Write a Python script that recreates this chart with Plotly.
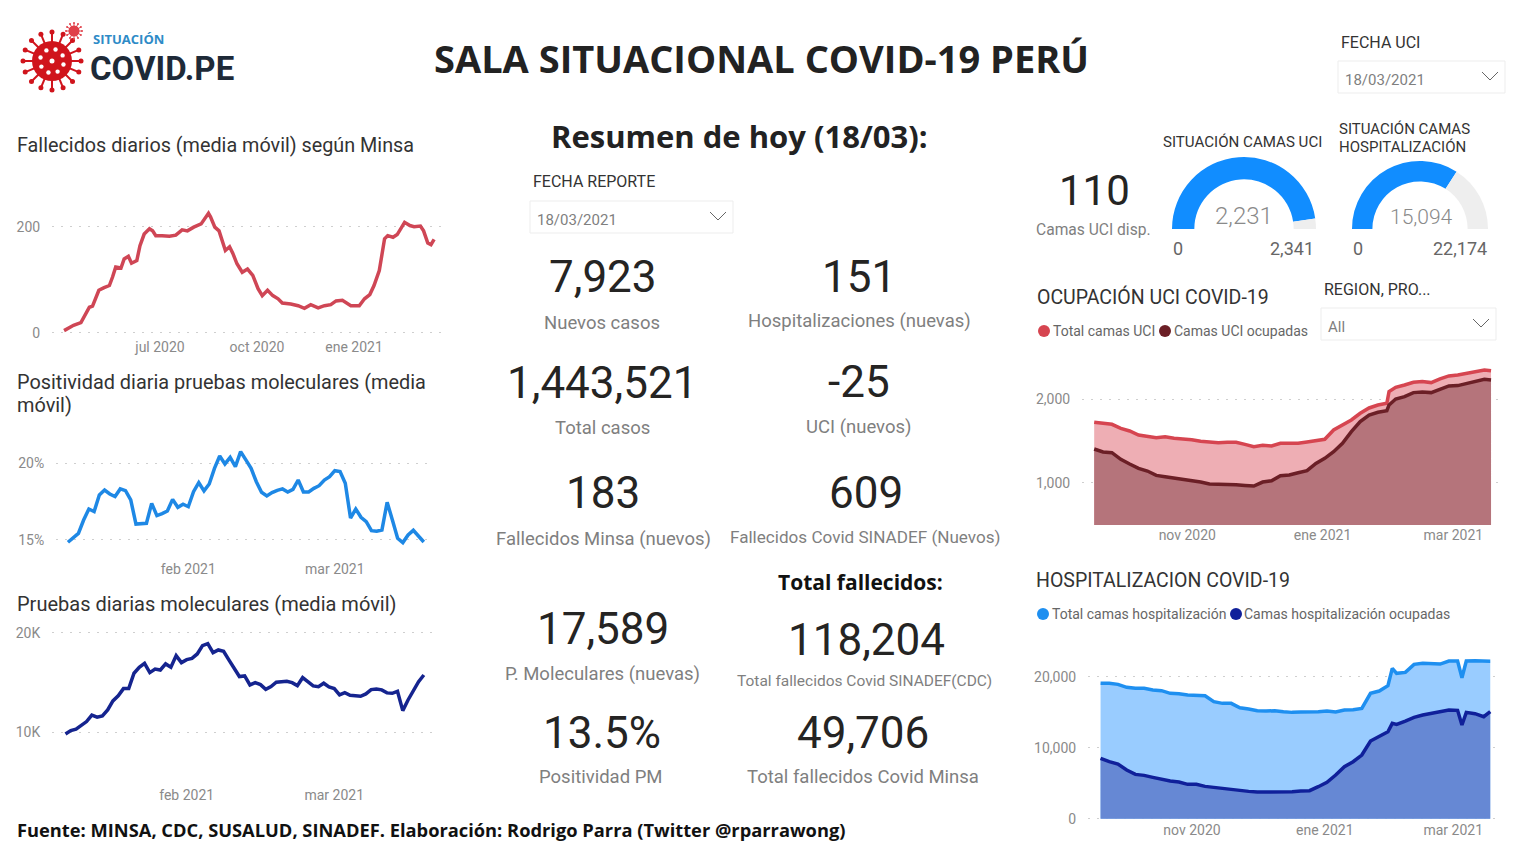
import math
import pandas as pd
import plotly.graph_objects as go

W = 1522
H = 849

# Fallecidos diarios: days since 2020-04-01
fall_days = [0, 4, 9, 16, 19, 24, 27, 30, 33, 38, 43, 46, 49, 54, 57, 61, 64, 69, 72, 76, 81, 84, 87, 93, 100,
             106, 112, 117, 123, 130, 134, 137, 139, 143, 147, 151, 153, 157, 160, 164, 169, 174, 179, 184, 188,
             193, 198, 203, 207, 215, 222, 228, 234, 241, 247, 253, 258, 264, 272, 280, 285, 290, 294, 299, 304,
             307, 312, 316, 323, 328, 332, 338, 341, 345, 348, 351]
fall_vals = [4, 8, 14, 19, 29, 48, 50, 67, 80, 85, 89, 105, 124, 122, 139, 144, 131, 136, 164, 186, 196, 192, 183,
             183, 182, 184, 194, 192, 199, 205, 218, 225, 218, 199, 192, 167, 155, 162, 150, 130, 114, 120, 108,
             83, 70, 80, 70, 64, 56, 54, 51, 46, 53, 47, 51, 53, 60, 61, 51, 51, 64, 72, 89, 117, 177, 183, 180,
             185, 208, 202, 200, 201, 192, 169, 166, 176]

# Positividad, daily from 2021-01-09
pos_vals = [14.85, 15.11, 15.43, 16.30, 17.02, 16.85, 17.93, 18.26, 18.0, 17.83, 18.33, 18.22, 17.61, 16.04, 16.04,
            16.09, 17.39, 16.59, 16.72, 16.89, 17.65, 17.13, 17.33, 17.17, 18.15, 18.74, 18.2, 18.65, 19.67, 20.48,
            19.96, 20.39, 19.78, 20.76, 20.22, 19.67, 18.8, 18.11, 17.87, 18.09, 18.24, 18.33, 18.13, 18.3, 18.91,
            18.13, 18.13, 18.37, 18.54, 18.91, 19.13, 19.52, 19.46, 18.7, 16.43, 17.02, 16.48, 16.2, 15.61, 15.57,
            15.65, 17.46, 16.3, 15.11, 14.83, 15.33, 15.63, 15.28, 14.87]

# Pruebas moleculares, daily from 2021-01-09
pruebas_vals = [9830, 10170, 10300, 10640, 11070, 11710, 11510, 11640, 12240, 13140, 13650, 14380, 14380, 15920,
                16520, 16920, 15990, 16350, 16250, 16860, 16520, 17690, 16990, 17290, 17420, 17860, 18700, 18900,
                17990, 18260, 18130, 17260, 16420, 15590, 15650, 14750, 14980, 14780, 14310, 14580, 15020, 15050,
                15120, 14980, 14680, 15480, 15080, 14650, 14580, 14920, 14550, 14380, 13750, 13980, 13710, 13680,
                13610, 13850, 14280, 14350, 14250, 13950, 13910, 14110, 12170, 13240, 14250, 15080, 15750]

# UCI: days since 2020-09-20
uci_days = [0, 4, 8, 12, 16, 20, 24, 28, 32, 36, 40, 44, 48, 52, 56, 60, 64, 68, 72, 76, 80, 84, 88, 92, 96, 100,
            104, 108, 112, 116, 120, 124, 128, 132, 133, 136, 140, 144, 148, 152, 156, 160, 164, 168, 172, 176, 179]
uci_total = [1724, 1712, 1700, 1652, 1620, 1572, 1552, 1540, 1552, 1532, 1524, 1516, 1496, 1484, 1480, 1484, 1484,
             1460, 1432, 1448, 1440, 1472, 1476, 1472, 1488, 1504, 1520, 1632, 1692, 1752, 1832, 1896, 1932, 1952,
             2092, 2144, 2172, 2204, 2212, 2200, 2244, 2280, 2292, 2312, 2332, 2352, 2341]
uci_ocup = [1404, 1368, 1360, 1280, 1224, 1172, 1140, 1088, 1072, 1056, 1048, 1032, 1008, 984, 984, 984, 976, 968,
            960, 1008, 1024, 1084, 1092, 1120, 1144, 1232, 1292, 1372, 1472, 1612, 1732, 1812, 1844, 1864, 1932,
            2004, 2032, 2080, 2088, 2080, 2120, 2160, 2164, 2192, 2212, 2240, 2231]

# Hospitalizacion: days since 2020-09-20
hosp_days = [0, 4, 8, 12, 16, 20, 24, 28, 32, 36, 40, 44, 48, 52, 56, 60, 64, 68, 72, 76, 80, 84, 88, 92, 96, 100,
             104, 108, 112, 116, 120, 124, 128, 132, 134, 136, 140, 144, 148, 152, 156, 160, 164, 166, 168, 172,
             176, 179]
hosp_total = [19061, 19061, 18920, 18498, 18357, 18357, 18122, 18028, 17653, 17606, 17418, 17418, 17324, 16479,
              16244, 16244, 15634, 15446, 15211, 15164, 15211, 15070, 14976, 15023, 15023, 15070, 15164, 15023,
              15305, 15352, 15540, 17653, 17981, 18732, 21174, 20470, 20610, 21737, 21878, 21784, 21784, 22207,
              22207, 19859, 22207, 22254, 22207, 22174]
hosp_ocup = [8497, 8028, 7699, 6854, 6244, 6103, 5821, 5539, 5305, 5164, 4835, 4835, 4553, 4413, 4272, 4037, 3943,
             3849, 3755, 3755, 3755, 3755, 3802, 3896, 3943, 4507, 5117, 6150, 7324, 8028, 8967, 10939, 11549,
             12253, 13427, 13286, 13756, 14272, 14601, 14835, 15023, 15305, 15258, 13192, 14977, 14789, 14366, 15094]

# gauges
uci_gauge = [2231, 2341]
hosp_gauge = [15094, 22174]

BLUE = "#118DFF"
GRAY_TXT = "#7f7f7f"
DARK_TXT = "#252423"
FONT = "Roboto"
BOLD = "Open Sans"


def dates(start, days):
    return pd.Timestamp(start) + pd.to_timedelta(days, unit="D")


fig = go.Figure()
annotations = []
shapes = []


def text(px, py, s, size=18, color=DARK_TXT, anchor="left", font=FONT, bold=False, weight=None):
    f = dict(family=font, size=size, color=color)
    if weight:
        f["weight"] = weight
    if anchor == "left":
        px -= 1
    annotations.append(dict(x=px / W, y=1 - py / H, xref="paper", yref="paper", text=f"<b>{s}</b>" if bold else s,
                            showarrow=False, xanchor=anchor, yanchor="middle", align=anchor,
                            font=f, borderpad=0))


def slicer(x0, y0, x1, y1, label):
    shapes.append(dict(type="rect", xref="paper", yref="paper", x0=x0 / W, x1=x1 / W, y0=1 - y0 / H, y1=1 - y1 / H,
                       line=dict(color="#EDEDED", width=1)))
    cx = x1 - 15
    cy = (y0 + y1) / 2 - 1
    path = f"M {(cx - 8) / W} {1 - (cy - 4) / H} L {cx / W} {1 - (cy + 4) / H} L {(cx + 8) / W} {1 - (cy - 4) / H}"
    shapes.append(dict(type="path", xref="paper", yref="paper", path=path, line=dict(color="#666666", width=1)))
    text(x0 + 7, (y0 + y1) / 2 + 3, label, size=15, color=GRAY_TXT)


def dot(px, py, color, r=6):
    shapes.append(dict(type="circle", xref="paper", yref="paper", x0=(px - r) / W, x1=(px + r) / W,
                       y0=1 - (py - r) / H, y1=1 - (py + r) / H, fillcolor=color, line=dict(width=0)))


def add_axes(n, px0, px1, py0, py1, anchor_date, anchor_px, px_per_day, yrange, tickdates, ticklabels, yvals, ylabels):
    # axis range is worked out from the pixel size of one day
    t0 = pd.Timestamp(anchor_date) + pd.to_timedelta((px0 - anchor_px) / px_per_day, unit="D")
    t1 = pd.Timestamp(anchor_date) + pd.to_timedelta((px1 - anchor_px) / px_per_day, unit="D")
    tick_font = dict(family=FONT, size=14, color="#8a8a8a")
    fig.update_layout({
        f"xaxis{n}": dict(domain=[px0 / W, px1 / W], range=[t0, t1], type="date", anchor=f"y{n}", showgrid=False,
                          zeroline=False, showline=False, tickvals=tickdates, ticktext=ticklabels, ticks="",
                          tickfont=tick_font, automargin=False),
        f"yaxis{n}": dict(domain=[1 - py1 / H, 1 - py0 / H], range=yrange, anchor=f"x{n}", showgrid=True,
                          gridcolor="#cfcfcf", griddash="2px,7px", gridwidth=1, zeroline=False, showline=False,
                          tickvals=yvals, ticktext=ylabels, ticks="outside", ticklen=8,
                          tickcolor="rgba(0,0,0,0)", tickfont=tick_font, automargin=False),
    })


def line(n, x, y, color, width=3.5, fill=None):
    fig.add_trace(go.Scatter(x=x, y=y, mode="lines", xaxis=f"x{n}", yaxis=f"y{n}", showlegend=False,
                             line=dict(color=color, width=width), fill="tozeroy" if fill else None,
                             fillcolor=fill, hoverinfo="x+y"))


def gauge(cx, cy, r, hole, value, maximum):
    fig.add_trace(go.Pie(values=[value, maximum - value, maximum], sort=False, direction="clockwise", rotation=270,
                         hole=hole, textinfo="none", hoverinfo="skip", showlegend=False,
                         marker=dict(colors=[BLUE, "#EEEEEE", "rgba(0,0,0,0)"], line=dict(width=0)),
                         domain=dict(x=[(cx - r) / W, (cx + r) / W], y=[1 - (cy + r) / H, 1 - (cy - r) / H])))


# left column
add_axes("", 52, 443, 190, 337, "2020-07-01", 160, 1.0543, [-8, 269],
         ["2020-07-01", "2020-10-01", "2021-01-01"], ["jul 2020", "oct 2020", "ene 2021"], [0, 200], ["0", "200"])
line("", dates("2020-04-01", fall_days), fall_vals, "#CF4655")

add_axes(2, 56, 432, 440, 559, "2021-02-01", 188.3, 5.233, [13.76, 21.52],
         ["2021-02-01", "2021-03-01"], ["feb 2021", "mar 2021"], [15, 20], ["15%", "20%"])
line(2, pd.date_range("2021-01-09", periods=len(pos_vals)), pos_vals, "#1E88E5")

add_axes(3, 52, 437, 620, 785, "2021-02-01", 186.7, 5.27, [4700, 21270],
         ["2021-02-01", "2021-03-01"], ["feb 2021", "mar 2021"], [10000, 20000], ["10K", "20K"])
line(3, pd.date_range("2021-01-09", periods=len(pruebas_vals)), pruebas_vals, "#15248F")

# right column areas
add_axes(4, 1082, 1502, 355, 525, "2020-11-01", 1187.3, 2.217, [493, 2531],
         ["2020-11-01", "2021-01-01", "2021-03-01"], ["nov 2020", "ene 2021", "mar 2021"],
         [1000, 2000], ["1,000", "2,000"])
line(4, dates("2020-09-20", uci_days), uci_total, "#D64550", fill="#EEAEB4")
line(4, dates("2020-09-20", uci_days), uci_ocup, "#6B1F26", fill="#B5747B")

add_axes(5, 1088, 1502, 650, 820, "2020-11-01", 1192, 2.177, [-183, 23760],
         ["2020-11-01", "2021-01-01", "2021-03-01"], ["nov 2020", "ene 2021", "mar 2021"],
         [0, 10000, 20000], ["0", "10,000", "20,000"])
line(5, dates("2020-09-20", hosp_days), hosp_total, "#1E8FF0", fill="#99CCFF")
line(5, dates("2020-09-20", hosp_days), hosp_ocup, "#10209A", fill="#6688D4")

gauge(1244, 229, 72, 0.69, uci_gauge[0], uci_gauge[1])
gauge(1420, 229, 68, 0.70, hosp_gauge[0], hosp_gauge[1])

# logo
LOGO_RED = "#D0141C"


def virus(cx, cy, r, n, color, holes=True):
    for i in range(n):
        a = 2 * math.pi * i / n
        x1, y1 = cx + 1.45 * r * math.cos(a), cy + 1.45 * r * math.sin(a)
        shapes.append(dict(type="line", xref="paper", yref="paper", x0=cx / W, y0=1 - cy / H, x1=x1 / W, y1=1 - y1 / H,
                           line=dict(color=color, width=max(1, r / 10))))
        dot(x1, y1, color, r=max(1, r / 8))
    dot(cx, cy, color, r=r)
    if holes:
        for i in range(8):
            a = 2 * math.pi * i / 8 + 0.3
            dot(cx + 0.6 * r * math.cos(a), cy + 0.6 * r * math.sin(a), "white", r=2.2)
        dot(cx, cy, "white", r=2.5)


virus(52, 61, 20, 16, LOGO_RED)
virus(74, 31, 5.5, 12, "#E0404A", holes=False)
text(93, 39, "SITUACIÓN", size=13, color="#2E8BC7", font="Open Sans", bold=True)
text(90, 68, "COVID.PE", size=33, color="#1E2A38", font="Roboto", bold=True)

# headers
text(761, 58, "SALA SITUACIONAL COVID-19 PERÚ", size=38, color="#222222", anchor="center", font=BOLD, bold=True)
text(739, 136, "Resumen de hoy (18/03):", size=31, color="#222222", anchor="center", font=BOLD, bold=True)

# chart titles
text(17, 145, "Fallecidos diarios (media móvil) según Minsa", size=19.8, color="#333333")
text(17, 382, "Positividad diaria pruebas moleculares (media", size=19.9, color="#333333")
text(17, 405, "móvil)", size=19.9, color="#333333")
text(17, 604, "Pruebas diarias moleculares (media móvil)", size=20, color="#333333")
text(1037, 297, "OCUPACIÓN UCI COVID-19", size=19.5, color="#333333")
text(1036, 580, "HOSPITALIZACION COVID-19", size=19.5, color="#333333")
text(17, 829, "Fuente: MINSA, CDC, SUSALUD, SINADEF. Elaboración: Rodrigo Parra (Twitter @rparrawong)",
     size=18.3, color="#111111", font=BOLD, bold=True)

# slicers
text(533, 182, "FECHA REPORTE", size=16, color="#333333")
slicer(530, 201, 733, 233, "18/03/2021")
text(1341, 42, "FECHA UCI", size=16, color="#333333")
slicer(1338, 61, 1505, 93, "18/03/2021")
text(1324, 289, "REGION, PRO...", size=16, color="#333333")
slicer(1321, 308, 1496, 340, "All")

# KPI cards
kpis = [
    (603, 277, "7,923", 44, 602, 323, "Nuevos casos", 18.5),
    (859, 277, "151", 44, 859, 321, "Hospitalizaciones (nuevas)", 18.5),
    (602, 383, "1,443,521", 44, 602, 428, "Total casos", 18.5),
    (859, 382, "-25", 44, 858, 427, "UCI (nuevos)", 18.5),
    (603, 493, "183", 44, 603, 539, "Fallecidos Minsa (nuevos)", 18.5),
    (866, 493, "609", 44, 865, 537, "Fallecidos Covid SINADEF (Nuevos)", 17.1),
    (603, 629, "17,589", 44, 602, 674, "P. Moleculares (nuevas)", 18.5),
    (866, 640, "118,204", 44, 864, 681, "Total fallecidos Covid SINADEF(CDC)", 15.5),
    (602, 733, "13.5%", 44, 601, 777, "Positividad PM", 18.5),
    (863, 733, "49,706", 44, 863, 777, "Total fallecidos Covid Minsa", 18.5),
    (1094, 190, "110", 42, 1093, 230, "Camas UCI disp.", 15.6),
]
for x1, y1, value, s1, x2, y2, label, s2 in kpis:
    text(x1, y1, value, size=s1, anchor="center")
    text(x2, y2, label, size=s2, color=GRAY_TXT, anchor="center")
text(860, 582, "Total fallecidos:", size=21, color="#111111", anchor="center", font=BOLD, bold=True)

# gauge texts
text(1242, 142, "SITUACIÓN CAMAS UCI", size=15.1, color="#333333", anchor="center")
text(1339, 129, "SITUACIÓN CAMAS", size=15, color="#333333")
text(1339, 147, "HOSPITALIZACIÓN", size=15, color="#333333")
text(1244, 216, f"{uci_gauge[0]:,}", size=24, color="#8a8a8a", anchor="center", weight=300)
text(1421, 217, f"{hosp_gauge[0]:,}", size=21, color="#8a8a8a", anchor="center", weight=300)
text(1173, 248, "0", size=18, color="#666666")
text(1315, 248, f"{uci_gauge[1]:,}", size=18, color="#666666", anchor="right")
text(1353, 248, "0", size=18, color="#666666")
text(1488, 248, f"{hosp_gauge[1]:,}", size=18, color="#666666", anchor="right")

# legends
dot(1044, 331, "#D64550")
text(1053, 331, "Total camas UCI", size=14, color="#666666")
dot(1165, 331, "#6B1F26")
text(1174, 331, "Camas UCI ocupadas", size=14, color="#666666")
dot(1043, 614, "#1E8FF0")
text(1052, 614, "Total camas hospitalización", size=14, color="#666666")
dot(1236, 614, "#10209A")
text(1244, 614, "Camas hospitalización ocupadas", size=14, color="#666666")

fig.update_layout(width=W, height=H, margin=dict(l=0, r=0, t=0, b=0), paper_bgcolor="white", plot_bgcolor="white",
                  annotations=annotations, shapes=shapes, showlegend=False, font=dict(family=FONT))

fig.write_html("out.html", config={"displayModeBar": False},
               post_script="document.documentElement.style.cssText='margin:0;overflow:hidden;height:849px';"
                           "document.body.style.cssText='margin:0;overflow:hidden;height:849px';")
